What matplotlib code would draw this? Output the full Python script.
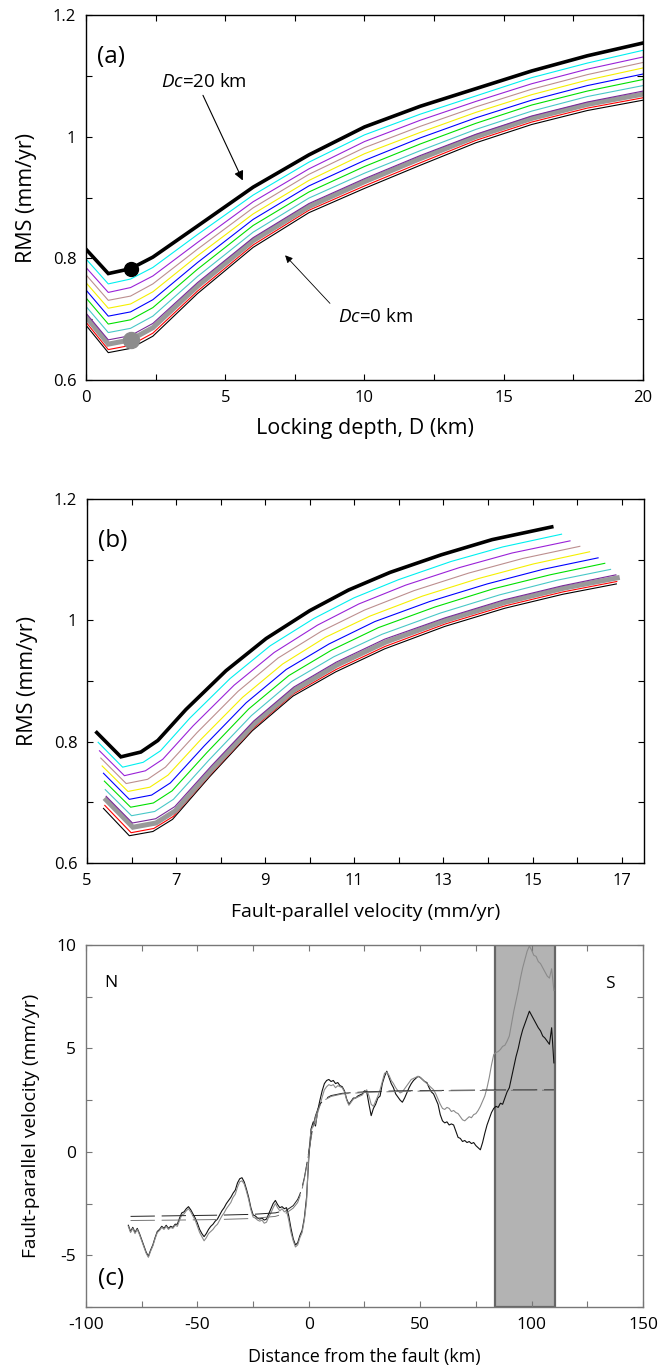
import matplotlib
matplotlib.use('Agg')
import matplotlib.pyplot as plt
import numpy as np
from matplotlib.ticker import MultipleLocator, FixedLocator, FuncFormatter

plt.rcParams['font.family'] = ['Open Sans', 'DejaVu Sans']
plt.rcParams['mathtext.fontset'] = 'custom'
plt.rcParams['mathtext.rm'] = 'Open Sans'
plt.rcParams['mathtext.it'] = 'Open Sans:italic'
plt.rcParams['axes.unicode_minus'] = False

# ---- panels (a)/(b): RMS misfit vs locking depth and vs slip rate ----
depth = [0, 0.8, 1.6, 2.4, 4, 6, 8, 10, 12, 14, 16, 18, 20]

rms_black_thick = [.815, .775, .783, .802, .853, .917, .970, 1.016, 1.050, 1.079, 1.108, 1.133, 1.154]
rms_cyan = [.799, .758, .766, .785, .839, .904, .958, 1.003, 1.037, 1.067, 1.097, 1.121, 1.142]
rms_purple = [.785, .744, .752, .771, .826, .893, .947, .992, 1.027, 1.058, 1.087, 1.111, 1.131]
rms_rosy = [.773, .731, .738, .758, .815, .883, .938, .982, 1.017, 1.049, 1.078, 1.102, 1.122]
rms_yellow = [.760, .718, .725, .745, .804, .873, .928, .972, 1.007, 1.040, 1.069, 1.093, 1.113]
rms_blue = [.748, .705, .712, .732, .793, .864, .919, .961, .998, 1.031, 1.060, 1.084, 1.103]
rms_green = [.735, .692, .699, .719, .782, .854, .909, .951, .988, 1.022, 1.052, 1.075, 1.094]
rms_turq = [.721, .678, .685, .705, .770, .843, .899, .940, .977, 1.012, 1.042, 1.066, 1.084]
rms_purple2 = [.710, .666, .673, .693, .760, .834, .890, .931, .969, 1.004, 1.034, 1.057, 1.075]
rms_gray = [.704, .659, .666, .686, .754, .829, .885, .926, .964, 1.000, 1.030, 1.053, 1.070]
rms_red = [.695, .650, .657, .677, .746, .822, .879, .919, .957, .994, 1.024, 1.047, 1.064]
rms_black_thin = [.690, .645, .652, .672, .742, .818, .875, .915, .953, .990, 1.020, 1.043, 1.060]

vel_black_thick = [5.22, 5.76, 6.21, 6.59, 7.22, 8.12, 9.02, 10.0, 10.87, 11.80, 12.95, 14.09, 15.43]
vel_cyan = [5.25, 5.80, 6.26, 6.65, 7.31, 8.21, 9.11, 10.09, 10.99, 11.99, 13.17, 14.33, 15.65]
vel_purple = [5.28, 5.84, 6.31, 6.70, 7.38, 8.30, 9.20, 10.17, 11.10, 12.15, 13.36, 14.54, 15.84]
vel_rosy = [5.31, 5.88, 6.36, 6.76, 7.47, 8.39, 9.29, 10.26, 11.23, 12.34, 13.57, 14.78, 16.06]
vel_yellow = [5.34, 5.92, 6.41, 6.82, 7.56, 8.49, 9.39, 10.35, 11.35, 12.53, 13.79, 15.02, 16.28]
vel_blue = [5.37, 5.95, 6.45, 6.87, 7.63, 8.57, 9.47, 10.43, 11.46, 12.69, 13.98, 15.23, 16.47]
vel_green = [5.39, 5.98, 6.49, 6.91, 7.69, 8.63, 9.53, 10.49, 11.54, 12.81, 14.12, 15.39, 16.62]
vel_turq = [5.41, 6.00, 6.52, 6.94, 7.74, 8.69, 9.59, 10.54, 11.62, 12.93, 14.26, 15.54, 16.75]
vel_purple2 = [5.43, 6.02, 6.54, 6.97, 7.79, 8.74, 9.64, 10.59, 11.68, 13.03, 14.37, 15.67, 16.87]
vel_gray = [5.43, 6.03, 6.55, 6.98, 7.80, 8.75, 9.65, 10.60, 11.70, 13.05, 14.40, 15.70, 16.90]
vel_red = [5.40, 5.99, 6.50, 6.94, 7.77, 8.73, 9.64, 10.59, 11.69, 13.04, 14.39, 15.69, 16.89]
vel_black_thin = [5.37, 5.95, 6.48, 6.92, 7.75, 8.71, 9.62, 10.58, 11.68, 13.03, 14.38, 15.68, 16.88]

best_depth = 1.6

# ---- panel (c): fault-parallel velocity profiles ----
dist = np.arange(-81, 111)
prof_gray = [
    -3.6, -3.9, -3.7, -3.95, -3.75, -4.0, -4.3, -4.6, -4.9, -5.1,
    -4.8, -4.55, -4.2, -3.9, -3.8, -3.65, -3.75, -3.6, -3.75, -3.65,
    -3.7, -3.55, -3.6, -3.3, -3.05, -3.0, -2.85, -2.75, -2.9, -3.1,
    -3.3, -3.6, -3.9, -4.1, -4.3, -4.15, -3.95, -3.85, -3.75, -3.6,
    -3.5, -3.3, -3.1, -2.95, -2.75, -2.6, -2.45, -2.2, -2.05, -1.7,
    -1.45, -1.4, -1.55, -1.9, -2.3, -2.8, -3.15, -3.2, -3.3, -3.35,
    -3.3, -3.45, -3.4, -3.15, -2.95, -2.7, -2.5, -2.7, -2.85, -2.75,
    -2.9, -2.85, -3.3, -3.9, -4.3, -4.6, -4.5, -4.15, -3.9, -3.3,
    -2.4, 0.0, 1.0, 1.3, 1.35, 1.9, 2.25, 2.65, 3.0, 3.15,
    3.25, 3.2, 3.25, 3.1, 3.2, 3.15, 3.1, 2.9, 2.5, 2.25,
    2.4, 2.55, 2.6, 2.65, 2.7, 2.75, 2.9, 3.0, 2.7, 2.3,
    2.2, 2.45, 2.7, 3.0, 3.4, 3.8, 3.85, 3.7, 3.45, 3.3,
    3.1, 2.95, 2.85, 2.9, 3.05, 3.2, 3.35, 3.5, 3.55, 3.6,
    3.65, 3.6, 3.5, 3.4, 3.3, 3.2, 3.1, 3.0, 2.8, 2.55,
    2.3, 2.1, 2.05, 2.15, 2.1, 1.95, 2.0, 1.9, 1.85, 1.7,
    1.55, 1.5, 1.6, 1.7, 1.65, 1.8, 1.85, 2.0, 2.2, 2.45,
    2.7, 3.1, 3.6, 4.2, 4.7, 4.8, 4.85, 4.95, 5.1, 5.15,
    5.35, 5.6, 6.2, 6.8, 7.3, 7.8, 8.4, 8.9, 9.3, 9.7,
    9.95, 9.75, 9.5, 9.45, 9.2, 9.1, 8.9, 8.7, 8.5, 8.4,
    8.85, 7.8]
prof_black = [
    -3.55, -3.85, -3.65, -3.9, -3.7, -3.95, -4.25, -4.55, -4.85, -5.05,
    -4.75, -4.5, -4.15, -3.85, -3.75, -3.6, -3.7, -3.55, -3.7, -3.6,
    -3.65, -3.5, -3.5, -3.2, -2.95, -2.9, -2.75, -2.65, -2.8, -3.0,
    -3.2, -3.45, -3.75, -3.95, -4.1, -3.95, -3.75, -3.6, -3.5, -3.35,
    -3.25, -3.05, -2.85, -2.7, -2.5, -2.35, -2.2, -2.0, -1.85, -1.5,
    -1.3, -1.25, -1.45, -1.8, -2.2, -2.7, -3.05, -3.1, -3.2, -3.25,
    -3.2, -3.3, -3.25, -3.0, -2.75, -2.5, -2.35, -2.55, -2.7, -2.65,
    -2.75, -2.7, -3.1, -3.7, -4.2, -4.5, -4.4, -4.05, -3.8, -3.2,
    -2.2, -0.3, 1.1, 1.45, 1.25, 2.0, 2.5, 2.95, 3.3, 3.45,
    3.5, 3.4, 3.45, 3.3, 3.35, 3.2, 3.15, 2.95, 2.55, 2.3,
    2.45, 2.6, 2.6, 2.7, 2.75, 2.8, 2.95, 2.9, 2.3, 1.75,
    2.1, 2.3, 2.6, 2.7, 3.3, 3.65, 3.9, 3.6, 3.3, 3.1,
    2.8, 2.65, 2.5, 2.4, 2.6, 2.85, 3.1, 3.3, 3.45, 3.55,
    3.65, 3.6, 3.5, 3.4, 3.35, 3.1, 2.9, 2.8, 2.55, 2.3,
    1.8, 1.5, 1.4, 1.45, 1.3, 1.35, 1.3, 1.0, 0.7, 0.65,
    0.5, 0.55, 0.45, 0.5, 0.4, 0.45, 0.3, 0.2, 0.1, 0.45,
    0.9, 1.3, 1.6, 1.9, 2.1, 2.2, 2.15, 2.35, 2.3, 2.6,
    2.9, 3.1, 3.6, 4.1, 4.6, 5.0, 5.5, 5.9, 6.2, 6.5,
    6.8, 6.6, 6.4, 6.2, 6.0, 5.85, 5.6, 5.5, 5.35, 5.2,
    6.0, 4.3]

fit_x = [-80, -60, -40, -25, -15, -10, -7, -5, -4, -3, -2, -1, 0, 1, 2, 3, 4, 5, 7, 10, 15, 25, 40, 60, 80, 110]
fit_black = [-3.12, -3.09, -3.06, -3.02, -2.95, -2.82, -2.6, -2.3, -2.05, -1.7, -1.25, -0.65, 0.0,
             0.7, 1.3, 1.75, 2.05, 2.3, 2.55, 2.72, 2.83, 2.9, 2.95, 2.97, 2.99, 3.0]
fit_gray = [-3.32, -3.3, -3.27, -3.22, -3.12, -2.95, -2.72, -2.45, -2.15, -1.8, -1.3, -0.7, -0.05,
            0.65, 1.25, 1.7, 2.0, 2.25, 2.5, 2.68, 2.8, 2.87, 2.92, 2.95, 2.97, 2.98]
shade_from, shade_to = 83.5, 110.5

# drawing order (bottom first), colours, widths
curves = [
    (rms_black_thin, vel_black_thin, 'black', 0.8),
    (rms_red, vel_red, '#ff0000', 0.8),
    (rms_gray, vel_gray, '#999999', 3.6),
    (rms_purple2, vel_purple2, '#7a2a9a', 0.8),
    (rms_turq, vel_turq, '#48c8c8', 0.8),
    (rms_green, vel_green, '#00e000', 0.8),
    (rms_blue, vel_blue, '#0000ff', 0.8),
    (rms_yellow, vel_yellow, '#f5f000', 0.8),
    (rms_rosy, vel_rosy, '#bc8f8f', 0.8),
    (rms_purple, vel_purple, '#9a22d8', 0.8),
    (rms_cyan, vel_cyan, '#00f0f0', 0.8),
    (rms_black_thick, vel_black_thick, 'black', 2.6),
]

fmt = FuncFormatter(lambda v, p: '%g' % v)

fig = plt.figure(figsize=(6.58, 13.66), dpi=100)
axa = fig.add_axes([0.1307, 0.7218, 0.8465, 0.2672])
axb = fig.add_axes([0.1322, 0.3682, 0.8465, 0.2665])
axc = fig.add_axes([0.1307, 0.0432, 0.8465, 0.2650])

for rms, vel, col, lw in curves:
    axa.plot(depth, rms, color=col, lw=lw, solid_joinstyle='miter')
    axb.plot(vel, rms, color=col, lw=lw, solid_joinstyle='miter')

ib = depth.index(best_depth)
axa.plot(best_depth, rms_black_thick[ib], 'o', color='black', ms=10, zorder=5)
axa.plot(best_depth, rms_gray[ib], 'o', color='#8c8c8c', ms=11.5, zorder=5)

axa.text(4.24, 1.09, r'$\mathit{Dc}$=20 km', fontsize=13.5, ha='center', va='center')
axa.annotate('', xy=(5.63, 0.928), xytext=(4.2, 1.068),
             arrowprops=dict(arrowstyle='-|>', color='black', lw=0.8,
                             mutation_scale=14, shrinkA=0, shrinkB=0))
axa.text(10.4, 0.704, r'$\mathit{Dc}$=0 km', fontsize=13.5, ha='center', va='center')
axa.annotate('', xy=(7.15, 0.805), xytext=(8.76, 0.726),
             arrowprops=dict(arrowstyle='-|>', color='black', lw=0.6,
                             mutation_scale=11, shrinkA=0, shrinkB=0))

axa.set_xlim(0, 20)
axa.set_ylim(0.6, 1.2)
axa.xaxis.set_major_locator(MultipleLocator(5))
axa.xaxis.set_minor_locator(MultipleLocator(2.5))
axa.set_xlabel('Locking depth, D (km)', fontsize=15.5)
axa.xaxis.set_label_coords(0.5, -0.105)
axa.text(0.02, 0.885, '(a)', transform=axa.transAxes, fontsize=17.5, va='center')

axb.set_xlim(5, 17.5)
axb.set_ylim(0.6, 1.2)
axb.xaxis.set_major_locator(FixedLocator([5, 7, 9, 11, 13, 15, 17]))
axb.xaxis.set_minor_locator(FixedLocator([6, 8, 10, 12, 14, 16]))
axb.set_xlabel('Fault-parallel velocity (mm/yr)', fontsize=14)
axb.xaxis.set_label_coords(0.5, -0.11)
axb.text(0.02, 0.885, '(b)', transform=axb.transAxes, fontsize=17.5, va='center')

for ax in (axa, axb):
    ax.yaxis.set_major_locator(MultipleLocator(0.2))
    ax.yaxis.set_minor_locator(MultipleLocator(0.1))
    ax.yaxis.set_major_formatter(fmt)
    ax.set_ylabel('RMS (mm/yr)', fontsize=15.5)
    ax.yaxis.set_label_coords(-0.088, 0.5)
    ax.tick_params(which='both', direction='in', top=True, right=True,
                   length=4, width=0.8, labelsize=12, pad=7)
    for s in ax.spines.values():
        s.set_linewidth(1.0)

# panel (c)
axc.axvspan(shade_from, shade_to, facecolor='#b3b3b3', edgecolor='#666666', lw=1.6, zorder=0)
axc.plot(dist, prof_black, color='#111111', lw=0.8)
axc.plot(dist, prof_gray, color='#8a8a8a', lw=0.8)
axc.plot(fit_x, fit_black, color='#222222', lw=0.7, dashes=(25, 7))
axc.plot(fit_x, fit_gray, color='#777777', lw=0.7, dashes=(25, 7))
axc.text(-88.8, 8.15, 'N', fontsize=12.5, ha='center', va='center')
axc.text(135.2, 8.1, 'S', fontsize=12.5, ha='center', va='center')
axc.text(0.022, 0.077, '(c)', transform=axc.transAxes, fontsize=17.5, va='center')
axc.set_xlim(-100, 150)
axc.set_ylim(-7.5, 10)
axc.xaxis.set_major_locator(MultipleLocator(50))
axc.xaxis.set_minor_locator(MultipleLocator(25))
axc.yaxis.set_major_locator(MultipleLocator(5))
axc.yaxis.set_minor_locator(MultipleLocator(2.5))
axc.xaxis.set_major_formatter(fmt)
axc.yaxis.set_major_formatter(fmt)
axc.set_xlabel('Distance from the fault (km)', fontsize=12.9)
axc.xaxis.set_label_coords(0.5, -0.113)
axc.set_ylabel('Fault-parallel velocity (mm/yr)', fontsize=13.8)
axc.yaxis.set_label_coords(-0.082, 0.5)
axc.tick_params(which='both', direction='in', top=True, right=True, length=4,
                width=0.8, color='#777777', labelsize=12.5, pad=7)
for s in axc.spines.values():
    s.set_color('#777777')
    s.set_linewidth(1.0)

fig.savefig('out.png', dpi=100)
